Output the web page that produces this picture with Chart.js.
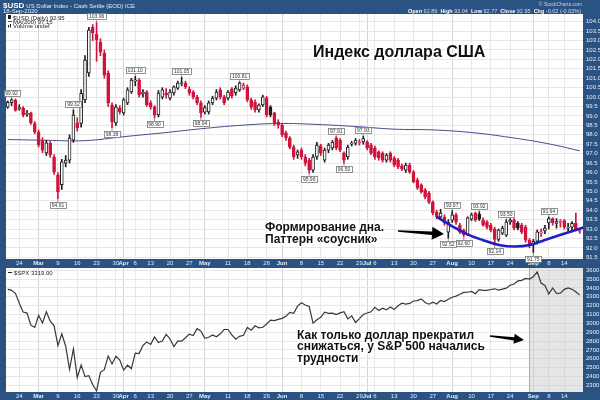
<!DOCTYPE html>
<html lang="ru">
<head>
<meta charset="utf-8">
<title>US Dollar Index vs S&P 500</title>
<script src="https://cdn.jsdelivr.net/npm/chart.js@4.4.1/dist/chart.umd.min.js"></script>
<style>
  html, body { margin: 0; padding: 0; background: #2a5282; }
  #wrap { position: relative; width: 600px; height: 400px; overflow: hidden; }
  #wrap canvas { position: absolute; left: 0; }
  #usdChart { top: 0; }
  #spxChart { top: 268px; }
</style>
</head>
<body>
<div id="wrap">
  <canvas id="usdChart" width="600" height="268"></canvas>
  <canvas id="spxChart" width="600" height="132"></canvas>
</div>
<script>
// x = trading day index, 0 = 19-Feb-2020 ... 148 = 18-Sep-2020
const tickIdx = [3, 8, 13, 18, 23, 28, 30, 33, 37, 42, 47, 51, 57, 62, 67, 71, 76, 81, 86, 91,
  93, 95, 100, 105, 110, 115, 120, 125, 130, 136, 140, 144];
const tickText = ["24", "Mar", "9", "16", "23", "30", "Apr", "6", "13", "20", "27", "May", "11", "18", "26", "Jun",
  "8", "15", "22", "29", "Jul", "6", "13", "20", "27", "Aug", "10", "17", "24", "Sep", "8", "14"];

const usdTicks = [91.5, 92.0, 92.5, 93.0, 93.5, 94.0, 94.5, 95.0, 95.5, 96.0, 96.5, 97.0, 97.5,
  98.0, 98.5, 99.0, 99.5, 100.0, 100.5, 101.0, 101.5, 102.0, 102.5, 103.0, 103.5, 104.0];
const spxTicks = [2300, 2400, 2500, 2600, 2700, 2800, 2900, 3000, 3100, 3200, 3300, 3400, 3500, 3600];

// $USD daily candles
const usdOpen = [
  99.47, 99.70, 99.84, 99.38, 99.42, 99.08, 99.15, 98.60, 98.15, 97.70,
  97.04, 97.55, 96.82, 95.87, 95.35, 96.50, 96.66, 97.72, 98.63, 98.60,
  99.85, 101.28, 103.72, 103.35, 102.92, 102.34, 101.28, 99.58, 98.63, 99.42,
  99.16, 99.69, 100.27, 100.85, 100.90, 100.18, 100.27, 99.69, 99.47, 99.05,
  100.00, 100.22, 99.95, 100.22, 100.48, 100.72, 100.75, 100.43, 100.27, 100.00,
  99.69, 99.20, 99.21, 99.69, 99.95, 100.38, 100.01, 99.95, 100.43, 100.22,
  100.38, 100.48, 100.54, 99.85, 99.74, 99.32, 99.58, 99.95, 99.47, 99.16,
  98.68, 98.52, 98.10, 97.83, 97.35, 96.93, 97.19, 96.82, 96.66, 96.13,
  96.82, 97.41, 96.66, 97.19, 97.30, 97.83, 97.72, 97.03, 96.82, 97.50,
  97.56, 97.58, 97.62, 97.62, 97.46, 97.30, 97.09, 97.03, 96.66, 97.03,
  96.77, 96.66, 96.35, 96.13, 96.40, 96.03, 95.60, 95.34, 95.07, 94.91,
  94.43, 93.90, 93.64, 93.64, 92.84, 93.47, 93.75, 93.21, 92.95, 92.70,
  93.53, 93.85, 93.80, 93.47, 93.37, 93.21, 93.00, 92.45, 92.78, 92.68,
  93.37, 93.47, 93.32, 93.21, 93.10, 92.40, 92.15, 92.35, 92.80, 92.90,
  93.32, 93.55, 93.30, 93.35, 93.45, 93.05, 93.10, 93.30, 92.89];
const usdHigh = [
  99.80, 99.92, 99.90, 99.60, 99.50, 99.30, 99.20, 98.70, 98.25, 97.85,
  97.70, 97.65, 96.95, 96.00, 96.70, 96.90, 98.00, 99.32, 98.90, 100.40,
  102.20, 103.70, 103.85, 103.96, 103.10, 102.50, 101.40, 99.70, 99.60, 99.55,
  99.95, 100.50, 101.00, 101.10, 101.00, 100.40, 100.35, 99.80, 99.55, 100.35,
  100.50, 100.45, 100.40, 100.60, 100.85, 101.05, 100.85, 100.55, 100.35, 100.10,
  99.80, 99.55, 99.80, 100.05, 100.40, 100.50, 100.10, 100.35, 100.50, 100.60,
  100.81, 100.75, 100.65, 99.95, 99.85, 99.65, 100.10, 100.05, 99.55, 99.20,
  98.80, 98.60, 98.20, 97.90, 97.45, 97.20, 97.30, 96.95, 96.75, 96.95,
  97.60, 97.50, 97.30, 97.55, 97.70, 97.91, 97.80, 97.10, 97.45, 97.65,
  97.80, 97.75, 97.93, 97.70, 97.55, 97.40, 97.15, 97.10, 97.00, 97.10,
  96.85, 96.75, 96.45, 96.50, 96.50, 96.10, 95.70, 95.40, 95.15, 95.00,
  94.50, 94.00, 94.05, 93.75, 93.50, 93.97, 93.85, 93.30, 93.00, 93.65,
  93.85, 93.90, 93.92, 93.60, 93.45, 93.30, 93.10, 93.00, 93.15, 93.50,
  93.55, 93.55, 93.40, 93.30, 93.20, 92.50, 92.45, 92.95, 93.00, 93.20,
  93.64, 93.60, 93.55, 93.50, 93.50, 93.30, 93.40, 93.85, 93.04];
const usdLow = [
  99.40, 99.55, 99.25, 99.30, 98.95, 98.98, 98.55, 98.05, 97.35, 97.05,
  96.90, 96.80, 95.90, 94.61, 95.10, 96.30, 96.50, 97.60, 98.20, 98.40,
  99.70, 101.10, 103.00, 101.90, 102.20, 101.00, 99.50, 98.38, 98.50, 99.10,
  99.05, 99.60, 100.20, 100.60, 100.00, 100.00, 99.50, 99.35, 98.90, 98.95,
  99.90, 99.95, 99.85, 100.10, 100.40, 100.60, 100.45, 100.10, 99.90, 99.60,
  98.94, 99.10, 99.10, 99.60, 99.85, 99.90, 99.60, 99.85, 99.95, 100.10,
  100.30, 100.40, 99.75, 99.35, 99.20, 99.20, 99.50, 98.95, 98.95, 98.50,
  98.35, 97.90, 97.70, 97.25, 96.70, 96.75, 96.70, 96.35, 95.96, 96.00,
  96.70, 96.90, 96.55, 97.05, 97.20, 97.20, 97.10, 96.50, 96.70, 97.40,
  97.45, 97.45, 97.50, 97.20, 96.95, 96.70, 96.65, 96.55, 96.55, 96.55,
  96.30, 96.20, 96.10, 96.00, 95.95, 95.45, 95.10, 94.90, 94.60, 94.35,
  93.75, 93.55, 93.50, 93.20, 92.52, 93.35, 93.25, 92.75, 92.60, 92.65,
  93.45, 93.40, 93.45, 93.15, 93.00, 92.85, 92.14, 92.35, 92.70, 92.60,
  93.25, 92.95, 92.95, 92.75, 92.30, 92.00, 91.75, 92.20, 92.60, 92.75,
  93.00, 93.20, 93.05, 93.10, 93.00, 92.90, 92.85, 92.90, 92.77];
const usdClose = [
  99.72, 99.86, 99.30, 99.45, 99.05, 99.12, 98.63, 98.15, 97.46, 97.19,
  97.57, 96.93, 96.03, 94.97, 96.56, 96.66, 97.83, 99.05, 98.36, 100.20,
  101.97, 103.56, 103.40, 103.03, 102.39, 101.17, 99.69, 98.68, 99.47, 99.21,
  99.85, 100.38, 100.90, 100.92, 100.11, 100.27, 99.58, 99.47, 99.05, 100.22,
  100.38, 100.11, 100.27, 100.54, 100.75, 100.77, 100.54, 100.22, 100.00, 99.69,
  99.16, 99.45, 99.69, 99.95, 100.27, 100.01, 99.69, 100.27, 100.06, 100.48,
  100.75, 100.64, 99.85, 99.47, 99.32, 99.58, 100.01, 99.05, 99.05, 98.63,
  98.52, 97.99, 97.83, 97.35, 96.82, 97.09, 96.82, 96.50, 96.13, 96.82,
  97.46, 97.03, 97.19, 97.46, 97.62, 97.30, 97.19, 96.66, 97.35, 97.56,
  97.72, 97.60, 97.80, 97.30, 97.03, 96.82, 96.77, 96.66, 96.93, 96.66,
  96.40, 96.29, 96.20, 96.40, 96.03, 95.50, 95.18, 94.97, 94.70, 94.43,
  93.85, 93.64, 93.85, 93.32, 93.37, 93.75, 93.37, 92.84, 92.70, 93.59,
  93.75, 93.47, 93.53, 93.21, 93.10, 92.94, 92.45, 92.94, 93.05, 93.37,
  93.47, 93.05, 93.05, 92.84, 92.41, 92.14, 92.35, 92.85, 92.84, 93.05,
  93.55, 93.32, 93.40, 93.37, 93.10, 93.10, 93.30, 92.97, 92.95];

// MA(200) read at a few days
const maIdx = [0, 10, 20, 30, 40, 50, 60, 70, 80, 90, 100, 110, 120, 130, 140, 148];
const maVal = [97.75, 97.71, 97.69, 97.90, 98.10, 98.32, 98.50, 98.60, 98.55, 98.44,
  98.30, 98.26, 98.12, 97.86, 97.52, 97.15];

// hand drawn "saucer"
const saucerIdx = [111, 114.5, 118.8, 123, 127.4, 131.2, 135.1, 139, 142.9, 149];
const saucerVal = [93.64, 93.21, 92.73, 92.41, 92.14, 92.07, 92.15, 92.42, 92.68, 93.08];

const highMarks = [1, 17, 23, 33, 45, 60, 85, 92, 115, 122, 129, 140];
const lowMarks = [13, 27, 38, 50, 78, 87, 114, 118, 126, 136];

// $SPX daily close
const spxClose = [
  3386, 3373, 3338, 3226, 3128, 3116, 2979, 2954, 3090, 3003,
  3130, 3024, 2972, 2747, 2882, 2741, 2481, 2711, 2386, 2529,
  2398, 2409, 2305, 2237, 2447, 2476, 2630, 2541, 2627, 2585,
  2471, 2527, 2489, 2664, 2659, 2750, 2790, 2762, 2846, 2783,
  2800, 2875, 2823, 2737, 2799, 2798, 2837, 2878, 2863, 2940,
  2912, 2831, 2843, 2868, 2848, 2881, 2930, 2930, 2870, 2820,
  2853, 2864, 2954, 2923, 2972, 2949, 2955, 2992, 3036, 3030,
  3044, 3056, 3081, 3123, 3112, 3194, 3232, 3207, 3190, 3002,
  3041, 3067, 3125, 3113, 3115, 3098, 3118, 3131, 3050, 3084,
  3009, 3053, 3100, 3116, 3130, 3180, 3145, 3170, 3152, 3185,
  3155, 3198, 3227, 3216, 3225, 3252, 3257, 3276, 3236, 3216,
  3239, 3218, 3258, 3246, 3271, 3295, 3307, 3328, 3349, 3351,
  3360, 3334, 3380, 3373, 3373, 3382, 3390, 3375, 3386, 3397,
  3431, 3444, 3479, 3485, 3508, 3500, 3527, 3581, 3455, 3427,
  3332, 3399, 3339, 3341, 3384, 3401, 3385, 3357, 3319];
const shadeFrom = 134.9;

const BLUE = '#2a5282';
const RED = '#d0143c';
const INK = '#1e1e1e';
const AXIS_TEXT = '#e6edf5';
const MA_COLOR = '#4a4a8c';

Chart.defaults.font.family = 'Arial, "Liberation Sans", sans-serif';

const tickLabel = {};
tickIdx.forEach((v, i) => { tickLabel[v] = tickText[i]; });
const monthNames = ['Mar', 'Apr', 'May', 'Jun', 'Jul', 'Aug', 'Sep'];
const isMonthTick = c => c.tick && monthNames.includes(tickLabel[c.tick.value]);

function noPad(s) {
  s.paddingTop = 0; s.paddingBottom = 0; s.paddingLeft = 0; s.paddingRight = 0;
}

function dateAxis(h) {
  return {
    type: 'linear', min: -0.44, max: 148.85, offset: false,
    afterFit: s => { s.height = h; noPad(s); },
    afterBuildTicks: s => { s.ticks = tickIdx.map(v => ({ value: v })); },
    ticks: {
      autoSkip: false, maxRotation: 0, minRotation: 0, padding: 1, color: AXIS_TEXT,
      font: c => ({ size: 6, weight: isMonthTick(c) ? 'bold' : 'normal' }),
      callback: v => tickLabel[v]
    },
    grid: { color: c => isMonthTick(c) ? '#d4d4d4' : '#e7e7e7', drawTicks: false, offset: false },
    border: { display: false }
  };
}

function valueAxis(min, max, list, fmt) {
  return {
    position: 'right', min: min, max: max,
    afterFit: s => { s.width = 17; noPad(s); },
    afterBuildTicks: s => { s.ticks = list.map(v => ({ value: v })); },
    ticks: { autoSkip: false, padding: 3, color: AXIS_TEXT, font: { size: 6 }, callback: fmt },
    grid: { color: '#e7e7e7', drawTicks: false },
    border: { display: false }
  };
}

function frame(chart) {
  const { ctx, chartArea: a, width, height } = chart;
  ctx.save();
  ctx.fillStyle = BLUE;
  ctx.fillRect(0, 0, width, height);
  ctx.fillStyle = '#fff';
  ctx.fillRect(a.left, a.top, a.right - a.left, a.bottom - a.top);
  ctx.restore();
}

function haloText(ctx, text, x, y, font) {
  ctx.font = font;
  ctx.textAlign = 'left';
  ctx.textBaseline = 'alphabetic';
  ctx.lineJoin = 'round';
  ctx.lineWidth = 3;
  ctx.strokeStyle = 'rgba(255,255,255,0.95)';
  ctx.strokeText(text, x, y);
  ctx.fillStyle = '#111';
  ctx.fillText(text, x, y);
}

function arrow(ctx, x1, y1, x2, y2, head, half) {
  const len = Math.hypot(x2 - x1, y2 - y1);
  ctx.save();
  ctx.translate(x1, y1);
  ctx.rotate(Math.atan2(y2 - y1, x2 - x1));
  ctx.beginPath();
  ctx.moveTo(0, -0.7);
  ctx.lineTo(len - head, -1.7);
  ctx.lineTo(len - head, -half);
  ctx.lineTo(len, 0);
  ctx.lineTo(len - head, half);
  ctx.lineTo(len - head, 1.7);
  ctx.lineTo(0, 0.7);
  ctx.closePath();
  ctx.fillStyle = '#000';
  ctx.fill();
  ctx.restore();
}

function markBox(ctx, value, x, y, above) {
  const text = value.toFixed(2);
  ctx.font = '5px Arial';
  const w = Math.ceil(ctx.measureText(text).width) + 3;
  const h = 6;
  const bx = Math.round(x - w / 2) + 0.5;
  const by = above ? Math.round(y - 3 - h) + 0.5 : Math.round(y + 3) + 0.5;
  ctx.strokeStyle = '#777';
  ctx.lineWidth = 0.8;
  ctx.beginPath();
  ctx.moveTo(x, above ? by + h : by);
  ctx.lineTo(x, y);
  ctx.stroke();
  ctx.fillStyle = '#fff';
  ctx.fillRect(bx, by, w, h);
  ctx.strokeRect(bx, by, w, h);
  ctx.fillStyle = '#333';
  ctx.textAlign = 'center';
  ctx.textBaseline = 'middle';
  ctx.fillText(text, x, by + h / 2 + 0.4);
}

// StockCharts colouring: black/red vs previous close, hollow when close > open
const candleColor = usdClose.map((c, i) => (i === 0 || c >= usdClose[i - 1]) ? INK : RED);
const bodyFill = usdClose.map((c, i) => c > usdOpen[i] ? '#fff' : candleColor[i]);
const last = usdClose.length - 1;

const usdDecor = {
  id: 'usdDecor',
  beforeDraw: frame,
  afterDatasetsDraw(chart) {
    const ctx = chart.ctx, xs = chart.scales.x, ys = chart.scales.y;
    ctx.save();
    highMarks.forEach(i => markBox(ctx, usdHigh[i], xs.getPixelForValue(i), ys.getPixelForValue(usdHigh[i]), true));
    lowMarks.forEach(i => markBox(ctx, usdLow[i], xs.getPixelForValue(i), ys.getPixelForValue(usdLow[i]), false));
    ctx.restore();
  },
  afterDraw(chart) {
    const ctx = chart.ctx;
    ctx.save();

    // legend
    ctx.textAlign = 'left';
    ctx.textBaseline = 'alphabetic';
    ctx.fillStyle = INK;
    ctx.fillRect(8, 15, 3, 4);
    ctx.font = '6px Arial';
    ctx.fillText('$USD (Daily) ' + usdClose[last].toFixed(2), 13, 19.5);
    ctx.strokeStyle = MA_COLOR;
    ctx.lineWidth = 1;
    ctx.beginPath(); ctx.moveTo(8, 21.5); ctx.lineTo(12, 21.5); ctx.stroke();
    ctx.fillStyle = INK;
    ctx.fillText('MA(200) ' + maVal[maVal.length - 1].toFixed(2), 13, 23.5);
    ctx.fillRect(8, 25, 1, 2.5); ctx.fillRect(10, 24, 1, 3.5);
    ctx.fillText('Volume undef', 13, 27.5);

    // annotations
    haloText(ctx, 'Индекс доллара США', 313, 57, 'bold 16px Arial');
    haloText(ctx, 'Формирование дна.', 265, 230.5, 'bold 12px Arial');
    haloText(ctx, 'Паттерн «соусник»', 265, 243, 'bold 12px Arial');
    arrow(ctx, 398, 231, 444, 234, 12, 6.5);

    // header bar
    ctx.fillStyle = '#fff';
    ctx.font = 'bold 8px Arial';
    ctx.fillText('$USD', 3, 7.5);
    const w0 = ctx.measureText('$USD').width;
    ctx.font = '6px Arial';
    ctx.fillStyle = AXIS_TEXT;
    ctx.fillText('US Dollar Index - Cash Settle (EOD) ICE', 5 + w0, 7.5);
    ctx.fillText('18-Sep-2020', 3, 13);

    ctx.font = '5px Arial';
    ctx.fillStyle = '#c4d2e4';
    ctx.textAlign = 'right';
    ctx.fillText('\u00a9 StockCharts.com', 582, 5.5);

    const chg = usdClose[last] - usdClose[last - 1];
    const parts = [
      ['Open ', 1], [usdOpen[last].toFixed(2) + '  ', 0],
      ['High ', 1], [usdHigh[last].toFixed(2) + '  ', 0],
      ['Low ', 1], [usdLow[last].toFixed(2) + '  ', 0],
      ['Close ', 1], [usdClose[last].toFixed(2) + '  ', 0],
      ['Chg ', 1], [chg.toFixed(2) + ' (' + (chg / usdClose[last - 1] * 100).toFixed(2) + '%)', 0]
    ];
    const fontOf = b => (b ? 'bold ' : '') + '5.5px Arial';
    let total = 0;
    parts.forEach(p => { ctx.font = fontOf(p[1]); total += ctx.measureText(p[0]).width; });
    let x = 581 - total;
    ctx.textAlign = 'left';
    parts.forEach(p => {
      ctx.font = fontOf(p[1]);
      ctx.fillStyle = p[1] ? '#fff' : '#d5dfeb';
      ctx.fillText(p[0], x, 12.5);
      x += ctx.measureText(p[0]).width;
    });
    ctx.restore();
  }
};

const spxDecor = {
  id: 'spxDecor',
  beforeDraw: frame,
  beforeDatasetsDraw(chart) {
    const { ctx, chartArea: a } = chart;
    const x0 = chart.scales.x.getPixelForValue(shadeFrom);
    ctx.save();
    ctx.fillStyle = 'rgba(195,195,195,0.42)';
    ctx.fillRect(x0, a.top, a.right - x0, a.bottom - a.top);
    ctx.strokeStyle = '#a9a9a9';
    ctx.lineWidth = 1;
    ctx.beginPath(); ctx.moveTo(Math.round(x0) + 0.5, a.top); ctx.lineTo(Math.round(x0) + 0.5, a.bottom); ctx.stroke();
    ctx.restore();
  },
  afterDraw(chart) {
    const ctx = chart.ctx;
    ctx.save();
    ctx.strokeStyle = INK;
    ctx.lineWidth = 1;
    ctx.beginPath(); ctx.moveTo(8, 4.5); ctx.lineTo(12, 4.5); ctx.stroke();
    ctx.font = '6px Arial';
    ctx.fillStyle = INK;
    ctx.textAlign = 'left';
    ctx.textBaseline = 'alphabetic';
    ctx.fillText('$SPX ' + spxClose[spxClose.length - 1].toFixed(2), 14, 6.5);

    haloText(ctx, 'Как только доллар прекратил', 297, 70.5, 'bold 12px Arial');
    haloText(ctx, 'снижаться, у S&P 500 начались', 297, 82, 'bold 12px Arial');
    haloText(ctx, 'трудности', 297, 93.5, 'bold 12px Arial');
    arrow(ctx, 490, 68, 524, 72, 10, 5);
    ctx.restore();
  }
};

new Chart(document.getElementById('usdChart'), {
  type: 'bar',
  data: {
    datasets: [
      {
        type: 'line', data: saucerIdx.map((x, i) => ({ x: x, y: saucerVal[i] })),
        borderColor: '#1f1fc2', borderWidth: 2.6, tension: 0.4, pointRadius: 0, order: 0
      },
      {
        data: usdOpen.map((o, i) => ({ x: i, y: [o, usdClose[i]] })),
        backgroundColor: bodyFill, borderColor: candleColor, borderWidth: 1, borderSkipped: false,
        barThickness: 3, minBarLength: 1, grouped: false, order: 1
      },
      {
        data: usdLow.map((l, i) => ({ x: i, y: [l, usdHigh[i]] })),
        backgroundColor: candleColor, borderWidth: 0, barThickness: 1, grouped: false, order: 2
      },
      {
        type: 'line', data: maIdx.map((x, i) => ({ x: x, y: maVal[i] })),
        borderColor: MA_COLOR, borderWidth: 1, tension: 0.4, pointRadius: 0, order: 3
      }
    ]
  },
  options: {
    responsive: false, animation: false, devicePixelRatio: 1, events: [],
    layout: { padding: { top: 14, left: 6, right: 0, bottom: 0 } },
    plugins: { legend: { display: false }, tooltip: { enabled: false } },
    scales: {
      x: dateAxis(9),
      y: valueAxis(91.41, 104.41, usdTicks, v => v.toFixed(1))
    }
  },
  plugins: [usdDecor]
});

new Chart(document.getElementById('spxChart'), {
  type: 'line',
  data: {
    datasets: [{
      data: spxClose.map((v, i) => ({ x: i, y: v })),
      borderColor: '#383838', borderWidth: 1.2, pointRadius: 0, tension: 0
    }]
  },
  options: {
    responsive: false, animation: false, devicePixelRatio: 1, events: [],
    layout: { padding: { top: 0, left: 6, right: 0, bottom: 0 } },
    plugins: { legend: { display: false }, tooltip: { enabled: false } },
    scales: {
      x: dateAxis(8),
      y: valueAxis(2224, 3625, spxTicks, v => String(v))
    }
  },
  plugins: [spxDecor]
});
</script>
</body>
</html>
